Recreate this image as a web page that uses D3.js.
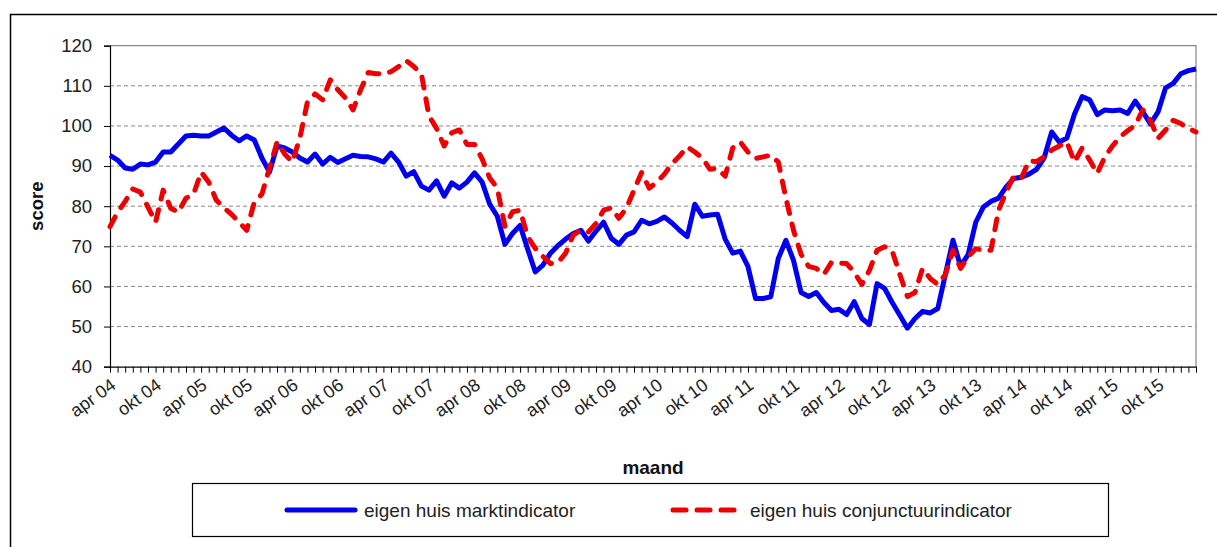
<!DOCTYPE html>
<html>
<head>
<meta charset="utf-8">
<script src="https://cdn.jsdelivr.net/npm/d3@7"></script>
<style>
  body { margin: 0; background: #fff; }
  svg { display: block; font-family: "Liberation Sans", Arial, sans-serif; }
</style>
</head>
<body>
<svg id="chart" width="1217" height="547"></svg>
<script>
'use strict';

// months apr 2004 .. mrt 2016
const monthNames = ['jan', 'feb', 'mrt', 'apr', 'mei', 'jun', 'jul', 'aug', 'sep', 'okt', 'nov', 'dec'];
const months = [];
for (let k = 0; k < 144; k++) {
    const m = (3 + k) % 12;
    const yr = 4 + Math.floor((3 + k) / 12);
    months.push(monthNames[m] + ' ' + String(yr).padStart(2, '0'));
}
const shownLabels = months.filter(d => d.startsWith('apr') || d.startsWith('okt'));

const yTicks = [40, 50, 60, 70, 80, 90, 100, 110, 120];

const marktIndicator = [
    92.7, 91.5, 89.5, 89.2, 90.5, 90.3, 91, 93.5, 93.5, 95.5, 97.5, 97.7,
    97.5, 97.5, 98.5, 99.5, 97.7, 96.3, 97.5, 96.5, 92, 88.5, 95, 94.5,
    93.5, 92, 91, 93, 90.5, 92.2, 90.9, 91.8, 92.7, 92.4, 92.3, 91.8,
    91, 93.2, 91, 87.5, 88.6, 85, 84, 86.3, 82.5, 85.8, 84.5, 86,
    88.3, 86, 80.5, 77.5, 70.5, 73.2, 75.2, 69.3, 63.6, 65.3, 68.3, 70.2,
    71.8, 73.2, 74, 71.3, 73.8, 76, 72, 70.5, 72.8, 73.6, 76.5, 75.6,
    76.2, 77.3, 75.8, 74, 72.4, 80.5, 77.5, 77.8, 78, 71.8, 68.3, 68.8,
    65, 57, 57, 57.4, 67, 71.5, 66.5, 58.5, 57.5, 58.5, 56, 54,
    54.3, 53, 56.2, 52, 50.5, 60.7, 59.5, 56, 52.8, 49.6, 52, 53.8,
    53.4, 54.5, 63, 71.5, 65, 68, 76, 79.8, 81.2, 82, 84.8, 86.9,
    87.2, 88, 89.2, 92, 98.5, 96, 97, 103, 107.3, 106.5, 102.8, 104,
    103.8, 104, 103.1, 106.2, 103.5, 100.5, 103.5, 109.5, 110.6, 113, 113.8, 114.2
];

const conjunctuurIndicator = [
    74.9, 78.5, 81.2, 84.3, 83.5, 79.8, 76, 84, 79.5, 78.5, 82, 83,
    88.5, 86, 81.5, 79.6, 78, 76, 74, 81, 83, 89.5, 96, 93,
    91, 97, 106, 108, 106.5, 111.5, 109, 107, 104, 109, 113.3, 113,
    113, 113.5, 114.8, 116.3, 114.8, 113, 102.5, 99.4, 95, 98.3, 99, 95.4,
    95.4, 91.8, 87, 84.5, 75, 78.6, 79, 72.4, 69.5, 67.5, 65.7, 66,
    68.3, 72.8, 74, 73.6, 75.7, 79, 79.6, 77, 79.5, 84, 88.4, 84.5,
    86, 88, 90.6, 92.5, 94.8, 93.5, 92, 89.2, 89.4, 87.5, 94.5, 96,
    93.5, 91.9, 92.3, 92.7, 91, 82, 74, 68, 65, 64.5, 63, 66,
    65.8, 65.7, 63.5, 60.5, 64, 69, 69.9, 68.8, 63, 57.5, 58.5, 64.5,
    62, 60.5, 63, 69, 64.5, 67.4, 69.4, 69, 69, 79, 83.5, 87.5,
    87, 91.3, 91.1, 92.3, 94, 95, 96, 91, 94.5, 91.5, 88.2, 92.3,
    95, 97.3, 98.8, 100.2, 104, 101.4, 96.9, 99, 101.4, 100.6, 99.4, 98.5
];

const seriesNames = ['eigen huis marktindicator', 'eigen huis conjunctuurindicator'];

const svg = d3.select('#chart');

// outer chart border
svg.append('rect')
    .attr('x', 10.5).attr('y', 14.5)
    .attr('width', 1230).attr('height', 560)
    .attr('fill', 'none').attr('stroke', '#000').attr('stroke-width', 1.5);

const plot = {left: 110, right: 1196, top: 45.7, bottom: 366.7};

const x = d3.scalePoint()
    .domain(months)
    .range([plot.left, plot.right]);

const y = d3.scaleLinear()
    .domain([40, 120])
    .range([plot.bottom, plot.top]);

// gridlines
svg.append('g')
    .selectAll('line')
    .data(yTicks.filter(d => d > 40 && d < 120))
    .join('line')
      .attr('x1', plot.left).attr('x2', plot.right)
      .attr('y1', d => y(d)).attr('y2', d => y(d))
      .attr('stroke', '#888').attr('stroke-width', 1)
      .attr('stroke-dasharray', '4,3');

// plot area frame (top / right)
svg.append('path')
    .attr('d', `M${plot.left},${y(120)}H${plot.right}V${plot.bottom}`)
    .attr('fill', 'none').attr('stroke', '#888').attr('stroke-width', 1.2);

// y axis
const yAxis = svg.append('g')
    .attr('transform', `translate(${plot.left},0)`)
    .call(d3.axisLeft(y).tickValues(yTicks).tickSize(6).tickPadding(12));
yAxis.select('.domain').attr('stroke', '#000').attr('stroke-width', 1.2);
yAxis.selectAll('.tick line').attr('stroke', '#000');
yAxis.selectAll('text')
    .attr('font-size', 18.5).attr('fill', '#222')
    .attr('font-family', '"Liberation Sans", Arial, sans-serif');

// x axis, a tick every month
const xAxis = svg.append('g')
    .attr('transform', `translate(0,${plot.bottom})`)
    .call(d3.axisBottom(x).tickSize(6).tickSizeOuter(0).tickFormat(''));
xAxis.select('.domain').attr('stroke', '#000').attr('stroke-width', 1.2);
xAxis.selectAll('.tick line').attr('stroke', '#000');

svg.append('g')
    .selectAll('text')
    .data(shownLabels)
    .join('text')
      .attr('transform', d => `translate(${x(d) + 7},${plot.bottom + 21}) rotate(-36)`)
      .attr('text-anchor', 'end')
      .attr('font-size', 18)
      .attr('fill', '#222')
      .text(d => d);

// axis titles
svg.append('text')
    .attr('transform', `translate(43,${(plot.top + plot.bottom) / 2}) rotate(-90)`)
    .attr('text-anchor', 'middle')
    .attr('font-size', 18.5).attr('font-weight', 'bold').attr('fill', '#111')
    .text('score');

svg.append('text')
    .attr('x', (plot.left + plot.right) / 2).attr('y', 474)
    .attr('text-anchor', 'middle')
    .attr('font-size', 19).attr('font-weight', 'bold').attr('fill', '#111')
    .text('maand');

// lines
const line = d3.line()
    .x((d, i) => x(months[i]))
    .y(d => y(d));

svg.append('path')
    .datum(marktIndicator)
    .attr('d', line)
    .attr('fill', 'none')
    .attr('stroke', '#0000ee')
    .attr('stroke-width', 5)
    .attr('stroke-linejoin', 'round');

svg.append('path')
    .datum(conjunctuurIndicator)
    .attr('d', line)
    .attr('fill', 'none')
    .attr('stroke', '#ee0000')
    .attr('stroke-width', 5)
    .attr('stroke-linecap', 'round')
    .attr('stroke-linejoin', 'round')
    .attr('stroke-dasharray', '11,11');

// legend
const legend = svg.append('g');
legend.append('rect')
    .attr('x', 192.5).attr('y', 483.5)
    .attr('width', 916).attr('height', 53)
    .attr('fill', '#fff').attr('stroke', '#000').attr('stroke-width', 1.2);

const legendItems = [
    {name: seriesNames[0], color: '#0000ee', dash: null, x0: 287},
    {name: seriesNames[1], color: '#ee0000', dash: '13,11', x0: 673}
];
legendItems.forEach(it => {
    legend.append('line')
        .attr('x1', it.x0).attr('x2', it.x0 + 68)
        .attr('y1', 510).attr('y2', 510)
        .attr('stroke', it.color).attr('stroke-width', 5)
        .attr('stroke-linecap', 'round')
        .attr('stroke-dasharray', it.dash);
    legend.append('text')
        .attr('x', it.x0 + 77).attr('y', 517)
        .attr('font-size', 19).attr('fill', '#222')
        .text(it.name);
});
</script>
</body>
</html>
